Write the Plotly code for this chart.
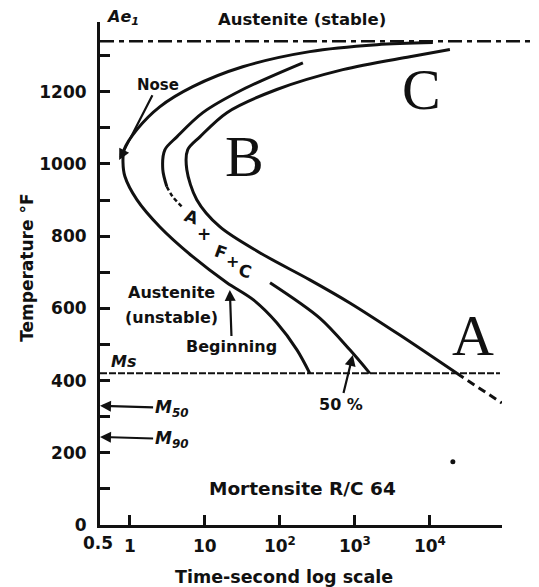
import numpy as np
import plotly.graph_objects as go

# ---------------- data (time in s, temperature in °F) ----------------
begin_t = [10960, 1965, 251, 32, 6.9, 2.5, 1.24, 0.84, 0.81, 0.86, 1.24, 2.5, 6.9, 19.7, 44, 91, 169, 251]
begin_T = [1336, 1330, 1311, 1269, 1214, 1158, 1095, 1040, 1005, 965, 901, 826, 743, 671, 624, 560, 485, 420]

half_upper_t = [203, 32, 9.4, 4.24, 2.93, 2.75, 3.11]
half_upper_T = [1280, 1206, 1142, 1075, 1039, 984, 937]
half_break_t = [3.11, 3.74, 5.09]
half_break_T = [937, 909, 879]
half_lower_t = [74, 341, 858, 1585]
half_lower_T = [671, 573, 485, 420]

end_t = [18500, 5410, 692, 91, 19.7, 8.6, 5.9, 5.75, 7.8, 15.8, 54, 251, 858, 3981, 22900]
end_T = [1317, 1297, 1261, 1206, 1142, 1075, 1039, 984, 901, 826, 754, 679, 615, 526, 420]
end_ext_t = [22900, 91200]
end_ext_T = [420, 338]

AE1 = 1340
MS = 420
M50 = 330
M90 = 244
dot_t = [20270]
dot_T = [175]

x_tickvals = [1, 10, 100, 1000, 10000]
x_ticktext = ["1", "10", "10<sup>2</sup>", "10<sup>3</sup>", "10<sup>4</sup>"]
y_tickvals = [0, 200, 400, 600, 800, 1000, 1200]
y_minor = [100, 300, 500, 700, 900, 1100, 1300]

X_MIN = np.log10(0.4)
X_MAX = 4.962
Y_MAX = 1393

FONT = "DejaVu Sans"
BLACK = "#111111"

fig = go.Figure()

def curve(t, T, dash="solid", width=3):
    fig.add_trace(go.Scatter(x=t, y=T, mode="lines",
                             line=dict(color=BLACK, width=width, dash=dash,
                                       shape="spline", smoothing=0.9),
                             hoverinfo="skip"))

curve(begin_t, begin_T)
curve(half_upper_t, half_upper_T)
curve(half_break_t, half_break_T, dash="4px,3px", width=2.5)
curve(half_lower_t, half_lower_T)
curve(end_t, end_T)
curve(end_ext_t, end_ext_T, dash="8px,5px")

fig.add_trace(go.Scatter(x=dot_t, y=dot_T, mode="markers",
                         marker=dict(color=BLACK, size=5), hoverinfo="skip"))

# horizontal reference lines
fig.add_shape(type="line", xref="paper", yref="y", x0=0, x1=1.092, y0=AE1, y1=AE1,
              line=dict(color=BLACK, width=2.5, dash="14px,5px,5px,5px"))
fig.add_shape(type="line", xref="paper", yref="y", x0=0, x1=0.995, y0=MS, y1=MS,
              line=dict(color=BLACK, width=2, dash="7px,2px"))

L = np.log10

def txt(text, t_log, T, size=16, family=FONT, bold=True, italic=False, angle=0,
        xref="x", yref="y", **kw):
    s = text
    if italic:
        s = "<i>" + s + "</i>"
    if bold:
        s = "<b>" + s + "</b>"
    fig.add_annotation(x=t_log, y=T, xref=xref, yref=yref, text=s, showarrow=False,
                       xanchor="center", yanchor="middle",
                       font=dict(family=family, size=size, color=BLACK),
                       textangle=angle, **kw)

def arrow(text, head_log, head_T, tail_log, tail_T, size=16, italic=False):
    s = text
    if italic:
        s = "<i>" + s + "</i>"
    fig.add_annotation(x=head_log, y=head_T, xref="x", yref="y",
                       ax=tail_log, ay=tail_T, axref="x", ayref="y",
                       text="<b>" + s + "</b>", showarrow=True,
                       arrowhead=2, arrowsize=1, arrowwidth=2.2, arrowcolor=BLACK,
                       font=dict(family=FONT, size=size, color=BLACK))

# labels
txt("Ae<sub>1</sub>", 0.057, 1.008, size=16, italic=True, xref="paper", yref="paper")
txt("Austenite (stable)", 0.502, 1.004, size=16.5, xref="paper", yref="paper")
txt("C", 3.893, 1205, size=58, family="Liberation Serif", bold=False)
txt("B", 1.533, 1020, size=58, family="Liberation Serif", bold=False)
txt("A", 4.573, 524, size=58, family="Liberation Serif", bold=False)
arrow("Nose", L(0.72), 1011, 0.373, 1219, size=15)
txt("A", 0.827, 853, size=17, angle=20)
txt("+", 0.987, 806, size=17)
txt("F", 1.213, 756, size=17, angle=20)
txt("+", 1.373, 731, size=16)
txt("C", 1.533, 704, size=17, angle=15)
txt("Austenite", 0.56, 645, size=16)
txt("(unstable)", 0.56, 576, size=16)
arrow("Beginning", 1.333, 651, 1.36, 493, size=16)
arrow("50 %", 2.973, 471, 2.813, 335, size=16)
txt("Ms", -0.08, 454, size=16, italic=True)
arrow("M<sub>50</sub>", X_MIN, M50, 0.55, M50 - 6, size=17, italic=True)
arrow("M<sub>90</sub>", X_MIN, M90, 0.55, M90 - 6, size=17, italic=True)
txt("Mortensite R/C 64", 2.307, 102, size=18.5)

# axis titles & 0.5 label
txt("Time-second log scale", 0.458, -0.103, size=17.5, xref="paper", yref="paper")
txt("Temperature °F", -0.182, 0.511, size=17, angle=-90, xref="paper", yref="paper")
txt("0.5", -0.005, -0.036, size=17, xref="paper", yref="paper")

TICKFONT = dict(size=17, family=FONT, color=BLACK, weight="bold")

# page body has an 8px default margin: compensate in the figure margins
fig.update_layout(
    width=531, height=579,
    margin=dict(l=92, r=37, t=14, b=62),
    plot_bgcolor="white", paper_bgcolor="white",
    showlegend=False,
    font=dict(family=FONT, color=BLACK),
    xaxis=dict(type="log", range=[X_MIN, X_MAX], tickvals=x_tickvals, ticktext=x_ticktext,
               ticks="inside", ticklen=10, tickwidth=2.5, tickcolor=BLACK,
               showline=True, linewidth=3, linecolor=BLACK, showgrid=False, zeroline=False,
               tickfont=TICKFONT, ticklabelstandoff=4),
    yaxis=dict(range=[0, Y_MAX], tickvals=y_tickvals,
               ticks="inside", ticklen=10, tickwidth=2.5, tickcolor=BLACK,
               minor=dict(tickvals=y_minor, ticks="inside", ticklen=10, tickwidth=2.5,
                          tickcolor=BLACK),
               showline=True, linewidth=3, linecolor=BLACK, showgrid=False, zeroline=False,
               tickfont=TICKFONT, ticklabelstandoff=7),
)

fig.write_html("out.html")
